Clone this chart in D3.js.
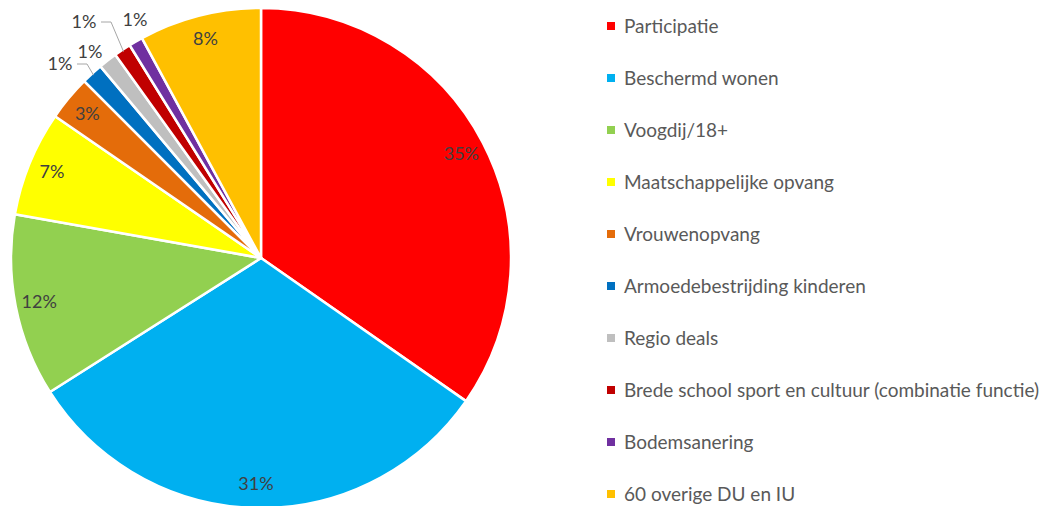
<!DOCTYPE html>
<html>
<head>
<meta charset="utf-8">
<script src="https://cdn.jsdelivr.net/npm/d3@7"></script>
<style>
  body { margin: 0; background: #fff; }
  text { font-family: Lato, "Open Sans", sans-serif; }
</style>
</head>
<body>
<div id="chart"></div>
<script>
var width = 1051, height = 506

// data
var categories = ['Participatie', 'Beschermd wonen', 'Voogdij/18+', 'Maatschappelijke opvang',
  'Vrouwenopvang', 'Armoedebestrijding kinderen', 'Regio deals',
  'Brede school sport en cultuur (combinatie functie)', 'Bodemsanering', '60 overige DU en IU']
var shares = [34.7, 31.3, 11.8, 6.8, 2.9, 1.4, 1.2, 1.1, 0.9, 7.9]
var colors = ['#FF0000', '#00B0F0', '#92D050', '#FFFF00', '#E46C0A', '#0070C0', '#BFBFBF', '#C00000', '#7030A0', '#FFC000']

var cx = 261, cy = 258, radius = 250

var svg = d3.select('#chart')
  .append('svg')
  .attr('width', width)
  .attr('height', height)

var data = categories.map((c, i) => ({ name: c, value: shares[i], color: colors[i] }))
var total = d3.sum(shares)

var pie = d3.pie()
  .sort(null)
  .value(d => d.value)

var arc = d3.arc()
  .innerRadius(0)
  .outerRadius(radius)

var labelArc = d3.arc()
  .innerRadius(226)
  .outerRadius(226)

var arcs = pie(data)

var pieG = svg.append('g')
  .attr('transform', `translate(${cx},${cy})`)

pieG.selectAll('path')
  .data(arcs)
  .enter()
  .append('path')
  .attr('d', arc)
  .style('fill', d => d.data.color)
  .style('stroke', 'white')
  .style('stroke-width', 2.5)
  .style('stroke-linejoin', 'round')

// inside labels for the bigger slices
pieG.selectAll('.inlabel')
  .data(arcs.filter(d => d.data.value >= 2))
  .enter()
  .append('text')
  .attr('class', 'inlabel')
  .attr('transform', d => `translate(${labelArc.centroid(d)})`)
  .attr('text-anchor', 'middle')
  .attr('dy', '0.35em')
  .style('font-size', '18px')
  .style('fill', '#404040')
  .text(d => Math.round(d.value / total * 100) + '%')

// outside labels for the small ones (offset in px from pie centre)
var outside = {
  'Armoedebestrijding kinderen': { x: -201, y: -194, line: true },
  'Regio deals': { x: -171, y: -206, line: false },
  'Brede school sport en cultuur (combinatie functie)': { x: -177, y: -236, line: true },
  'Bodemsanering': { x: -126, y: -238, line: false }
}

arcs.filter(d => outside[d.data.name]).forEach(d => {
  var o = outside[d.data.name]
  var mid = (d.startAngle + d.endAngle) / 2
  var edge = [Math.sin(mid) * (radius - 2), -Math.cos(mid) * (radius - 2)]
  if (o.line) {
    var start = [o.x + 17, o.y]
    var knee = [start[0] + 10, o.y]
    pieG.append('path')
      .attr('d', d3.line()([start, knee, edge]))
      .style('fill', 'none')
      .style('stroke', '#A6A6A6')
      .style('stroke-width', 1)
  }
  pieG.append('text')
    .attr('x', o.x)
    .attr('y', o.y)
    .attr('text-anchor', 'middle')
    .attr('dy', '0.35em')
    .style('font-size', '18px')
    .style('fill', '#404040')
    .text(Math.round(d.data.value / total * 100) + '%')
})

// legend
var legendY = d3.scalePoint()
  .domain(categories)
  .range([26, 494])

var legend = svg.append('g')
  .attr('class', 'legend')

var rows = legend.selectAll('g')
  .data(data)
  .enter()
  .append('g')
  .attr('transform', d => `translate(607,${legendY(d.name)})`)

rows.append('rect')
  .attr('x', 0)
  .attr('y', -4)
  .attr('width', 8)
  .attr('height', 8)
  .style('fill', d => d.color)

rows.append('text')
  .attr('x', 17)
  .attr('dy', '0.35em')
  .style('font-size', '19px')
  .style('fill', '#595959')
  .text(d => d.name)
</script>
</body>
</html>
